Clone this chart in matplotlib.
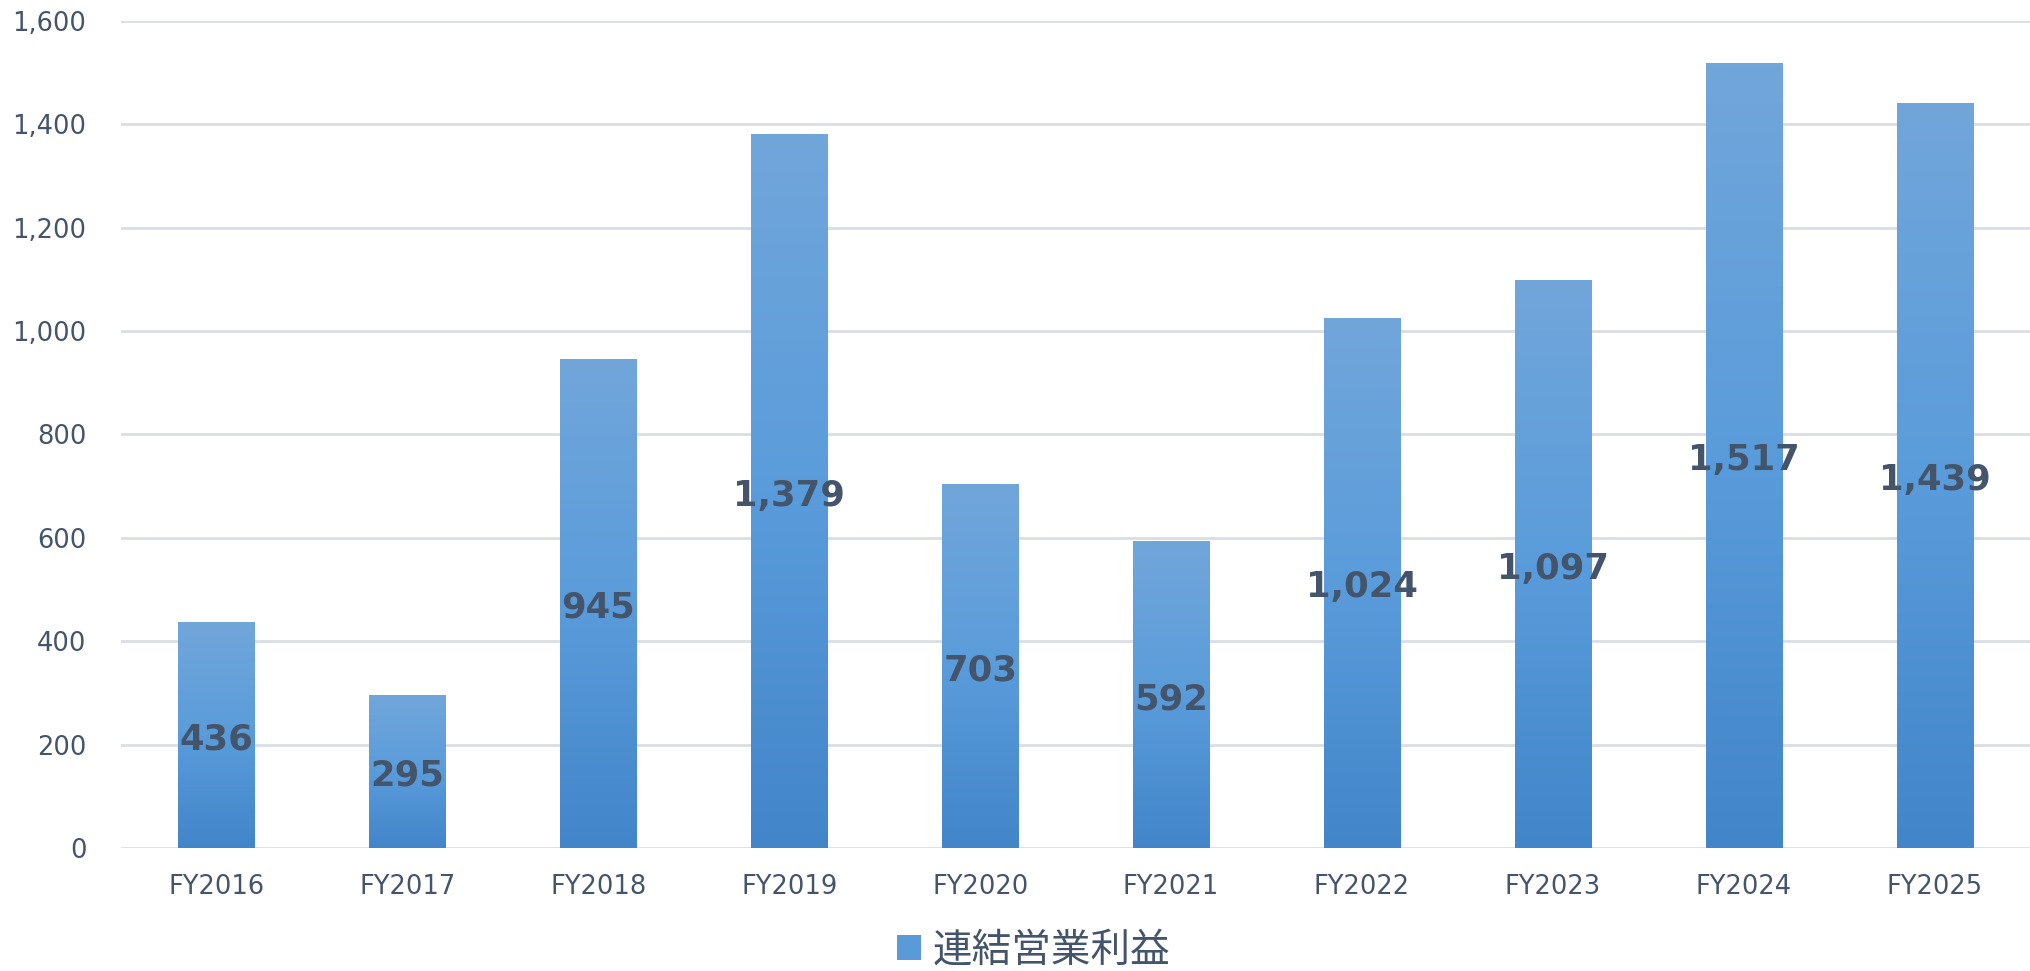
import numpy as np
import matplotlib
matplotlib.use('Agg')
import matplotlib.pyplot as plt
from matplotlib.patches import Patch
from matplotlib.colors import LinearSegmentedColormap

# data
years = ['FY2016', 'FY2017', 'FY2018', 'FY2019', 'FY2020',
         'FY2021', 'FY2022', 'FY2023', 'FY2024', 'FY2025']
profit = [436, 295, 945, 1379, 703, 592, 1024, 1097, 1517, 1439]
yticks = [0, 200, 400, 600, 800, 1000, 1200, 1400, 1600]
legend_label = '連結営業利益'

text_color = '#44546A'
grid_color = '#DADEE4'
grad = LinearSegmentedColormap.from_list('bar', ['#4285C9', '#5A9CDB', '#71A6DA'])

fig = plt.figure(figsize=(20.31, 9.71), dpi=100)
ax = fig.add_axes([0.0596, 0.1267, 0.94, 0.852])

x = np.arange(len(years))
bars = ax.bar(x, profit, width=0.40, facecolor='none', edgecolor='none', zorder=3)

# vertical gradient in each bar
g = np.linspace(0, 1, 256).reshape(-1, 1)
for b in bars:
    ax.imshow(g, cmap=grad, origin='lower', aspect='auto', zorder=3,
              extent=[b.get_x(), b.get_x() + b.get_width(), 0, b.get_height()])

# value labels sit in the middle of each bar
for xi, v in zip(x, profit):
    ax.annotate(f'{v:,}', (xi, v / 2), xytext=(0, -3), textcoords='offset points',
                ha='center', va='center', fontsize=25.5,
                fontweight='bold', color=text_color, zorder=4)

ax.set_xlim(-0.5, len(years) - 0.5)
ax.set_ylim(0, 1600)
ax.set_xticks(x)
ax.set_xticklabels(years)
ax.set_yticks(yticks)
ax.set_yticklabels([f'{t:,}' for t in yticks])
ax.tick_params(axis='both', length=0, labelsize=18.5, labelcolor=text_color)
ax.tick_params(axis='y', pad=25)
ax.tick_params(axis='x', pad=19)
ax.grid(axis='y', color=grid_color, linewidth=2, zorder=0)
ax.set_axisbelow(True)
for s in ax.spines.values():
    s.set_visible(False)

handle = Patch(facecolor='#5A9AD8', edgecolor='none')
leg = fig.legend([handle], [legend_label], loc='center', bbox_to_anchor=(0.509, 0.021),
                 frameon=False, handlelength=0.6, handleheight=0.6,
                 handletextpad=0.28, borderpad=0,
                 prop={'family': ['Noto Sans CJK JP', 'DejaVu Sans'], 'size': 28.5})
for t in leg.get_texts():
    t.set_color(text_color)

fig.savefig('out.png', dpi=100)
